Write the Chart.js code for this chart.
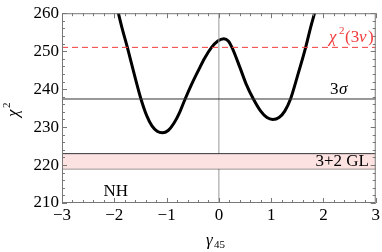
<!DOCTYPE html>
<html>
<head>
<meta charset="utf-8">
<script src="https://cdn.jsdelivr.net/npm/chart.js@4"></script>
<style>
  html, body { margin: 0; padding: 0; background: #fff; }
  #wrap { width: 382px; height: 252px; }
</style>
</head>
<body>
<div id="wrap"><canvas id="chart"></canvas></div>
<script>
// chi^2 as a function of gamma_45
const gamma = [-1.93, -1.85, -1.75, -1.62, -1.49, -1.38, -1.28, -1.18, -1.08, -0.97, -0.86, -0.75, -0.645, -0.52, -0.4, -0.27, -0.14, -0.02, 0.095, 0.18, 0.25, 0.4, 0.52, 0.66, 0.8, 0.92, 1.03, 1.15, 1.26, 1.37, 1.5, 1.66, 1.75, 1.83];
const chi2  = [260.5, 256.0, 251.0, 244.0, 237.4, 233.0, 230.3, 228.9, 228.5, 229.1, 231.0, 233.9, 237.4, 241.3, 244.7, 248.2, 251.0, 252.7, 253.3, 252.7, 251.0, 245.8, 241.4, 237.4, 234.2, 232.5, 232.0, 232.5, 234.2, 237.4, 243.3, 251.0, 256.0, 260.0];

const xRange = [-3, 3];
const yRange = [210, 260];
const chi2ThreeNu = 251;   // red dashed line
const sigma3 = 237.4;      // 3 sigma line
const bandLow = 219;       // 3+2 GL band
const bandHigh = 223;

const curve = gamma.map((g, i) => ({ x: g, y: chi2[i] }));
const hline = v => xRange.map(x => ({ x: x, y: v }));

const serif = "'Liberation Serif', 'DejaVu Serif', serif";

// inward ticks on all four sides, frame and annotations
const frame = {
  id: 'frame',
  afterDatasetsDraw(chart) {
    const { ctx, chartArea: a, scales: { x, y } } = chart;
    ctx.save();
    ctx.strokeStyle = '#777';
    ctx.lineWidth = 1;
    ctx.strokeRect(a.left + 0.5, a.top + 0.5, a.right - a.left - 1, a.bottom - a.top - 1);

    ctx.beginPath();
    for (let v = xRange[0]; v <= xRange[1] + 1e-9; v += 0.2) {
      const px = Math.round(x.getPixelForValue(v)) + 0.5;
      const major = Math.abs(v - Math.round(v)) < 1e-6;
      const len = major ? 5 : 3;
      ctx.moveTo(px, a.bottom); ctx.lineTo(px, a.bottom - len);
      ctx.moveTo(px, a.top); ctx.lineTo(px, a.top + len);
    }
    for (let v = yRange[0]; v <= yRange[1] + 1e-9; v += 2) {
      const py = Math.round(y.getPixelForValue(v)) + 0.5;
      const major = v % 10 === 0;
      const len = major ? 5 : 3;
      ctx.moveTo(a.left, py); ctx.lineTo(a.left + len, py);
      ctx.moveTo(a.right, py); ctx.lineTo(a.right - len, py);
    }
    ctx.stroke();

    // annotations
    ctx.fillStyle = '#000';
    ctx.textBaseline = 'alphabetic';
    ctx.font = '17px ' + serif;
    ctx.textAlign = 'right';
    ctx.fillText('3+2 GL', 369, 166);
    ctx.fillText('NH', 128, 196);
    ctx.textAlign = 'left';
    ctx.fillText('3', 330, 94);
    ctx.font = 'italic 17px ' + serif;
    ctx.fillText('\u03c3', 339, 94);

    ctx.fillStyle = '#f03c3c';
    ctx.font = 'italic 17px ' + serif;
    ctx.fillText('\u03c7', 329, 42);
    ctx.font = '11px ' + serif;
    ctx.fillText('2', 339, 34);
    ctx.font = '17px ' + serif;
    ctx.fillText('(3', 345, 42);
    ctx.font = 'italic 17px ' + serif;
    ctx.fillText('\u03bd', 359, 42);
    ctx.font = '17px ' + serif;
    ctx.fillText(')', 368, 42);

    // axis titles
    ctx.fillStyle = '#000';
    ctx.font = 'italic 17px ' + serif;
    ctx.fillText('\u03b3', 206, 245);
    ctx.font = '11px ' + serif;
    ctx.fillText('45', 214, 248);

    ctx.translate(18, 117);
    ctx.rotate(-Math.PI / 2);
    ctx.font = 'italic 17px ' + serif;
    ctx.fillText('\u03c7', 0, 0);
    ctx.font = '11px ' + serif;
    ctx.fillText('2', 9, -8);
    ctx.restore();
  }
};

new Chart(document.getElementById('chart'), {
  type: 'line',
  data: {
    datasets: [
      { data: hline(bandHigh), borderColor: '#333', borderWidth: 1, backgroundColor: '#fde2e2', fill: '+1', pointRadius: 0 },
      { data: hline(bandLow), borderColor: '#333', borderWidth: 1, pointRadius: 0, fill: false },
      { data: hline(sigma3), borderColor: '#333', borderWidth: 1, pointRadius: 0, fill: false },
      { data: hline(chi2ThreeNu), borderColor: '#f03c3c', borderWidth: 1, borderDash: [6, 4], pointRadius: 0, fill: false },
      { data: yRange.map(v => ({ x: 0, y: v })), borderColor: '#999', borderWidth: 1, pointRadius: 0, fill: false },
      { data: curve, borderColor: '#000', borderWidth: 3, pointRadius: 0, fill: false, cubicInterpolationMode: 'monotone' }
    ]
  },
  options: {
    responsive: true,
    maintainAspectRatio: false,
    animation: false,
    events: [],
    layout: { padding: { top: 8, right: 4, left: 0, bottom: 0 } },
    scales: {
      x: {
        type: 'linear', min: xRange[0], max: xRange[1],
        grid: { display: false, drawTicks: false },
        border: { display: false },
        ticks: {
          stepSize: 1, padding: 2, color: '#000',
          font: { family: serif, size: 17 },
          callback: v => (v < 0 ? '\u2212' + Math.abs(v) : '' + v)
        },
        afterFit: s => { s.height = 49; }
      },
      y: {
        type: 'linear', min: yRange[0], max: yRange[1],
        grid: { display: false, drawTicks: false },
        border: { display: false },
        ticks: {
          stepSize: 10, padding: 3, color: '#000',
          font: { family: serif, size: 17 }
        },
        afterFit: s => { s.width = 62; }
      }
    },
    plugins: {
      legend: { display: false },
      tooltip: { enabled: false }
    }
  },
  plugins: [frame]
});
</script>
</body>
</html>
